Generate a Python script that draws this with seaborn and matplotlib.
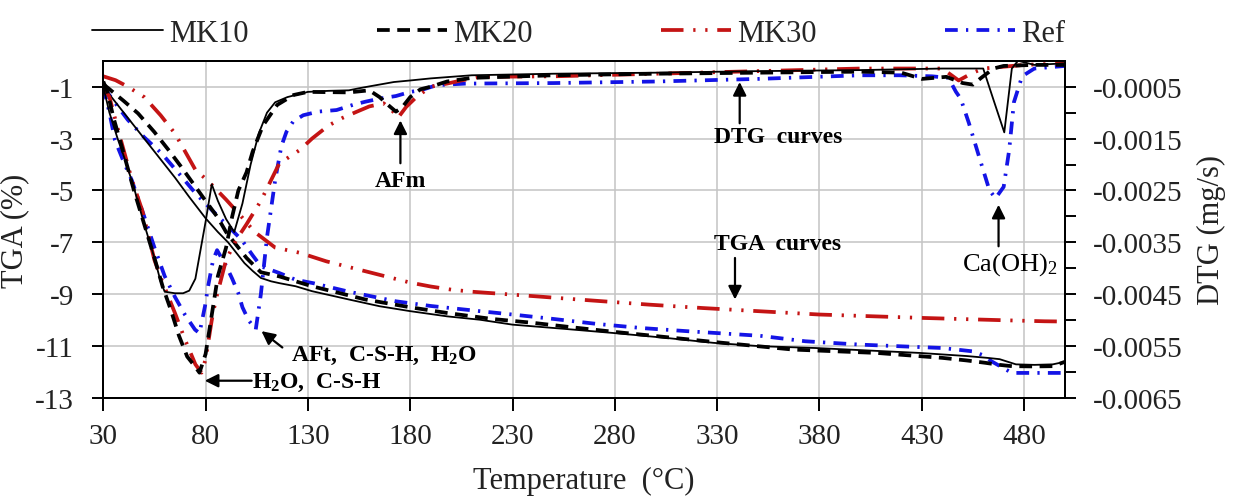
import numpy as np
import pandas as pd
import matplotlib
matplotlib.use("Agg")
import matplotlib.pyplot as plt
import seaborn as sns
from matplotlib.ticker import FixedLocator, FixedFormatter, NullFormatter

# ---------------- data ----------------
series_names = ["MK10", "MK20", "MK30", "Ref"]

# TGA (%)
mk10_tga_t = [30, 35, 42, 50, 58, 65, 72, 80, 86, 91, 95, 99, 103, 107, 112, 116, 124, 132, 150, 165, 180, 198,
              214, 230, 255, 279, 305, 328, 351, 378, 405, 429, 452, 462, 468, 476, 485, 494, 500]
mk10_tga_v = [-1.0, -1.5, -2.2, -3.0, -3.8, -4.5, -5.25, -6.07, -6.6, -7.0, -7.4, -7.8, -8.1, -8.37, -8.5, -8.57,
              -8.69, -8.88, -9.2, -9.46, -9.65, -9.85, -9.98, -10.17, -10.33, -10.49, -10.68, -10.87, -11.0, -11.07,
              -11.17, -11.26, -11.38, -11.45, -11.5, -11.7, -11.72, -11.7, -11.6]

mk20_tga_t = [30, 40, 47, 55, 62, 68, 75, 80, 86, 90, 95, 100, 107, 116, 132, 158, 180, 198, 220, 240, 260, 280,
              305, 330, 367, 408, 440, 452, 461, 468, 474, 485, 494, 500]
mk20_tga_v = [-0.9, -1.55, -2.03, -2.75, -3.45, -4.08, -4.85, -5.4, -6.05, -6.6, -7.1, -7.6, -8.15, -8.31, -8.69,
              -9.2, -9.5, -9.72, -9.95, -10.1, -10.28, -10.45, -10.65, -10.85, -11.13, -11.26, -11.45, -11.55,
              -11.64, -11.72, -11.77, -11.78, -11.77, -11.6]

mk30_tga_t = [30, 36, 42, 50, 58, 65, 70, 75, 80, 83, 90, 96, 104, 114, 120, 126, 139, 150, 160, 170, 180, 190,
              200, 210, 240, 262, 297, 323, 350, 380, 430, 470, 490, 500]
mk30_tga_v = [-0.6, -0.75, -1.0, -1.4, -2.1, -2.8, -3.5, -4.2, -4.55, -4.78, -5.35, -5.87, -6.6, -7.2, -7.3, -7.4,
              -7.73, -7.95, -8.15, -8.35, -8.55, -8.7, -8.82, -8.9, -9.07, -9.2, -9.4, -9.53, -9.65, -9.78, -9.91,
              -10.0, -10.04, -10.05]

ref_tga_t = [30, 36, 42, 50, 58.5, 67, 75, 83, 90, 97.6, 103, 107, 116, 124, 132.5, 150, 173, 190, 214, 230, 250,
             271, 293, 315, 351, 373, 400, 440, 455, 460, 464, 470, 474, 485, 500]
ref_tga_v = [-1.0, -1.65, -2.28, -2.95, -3.57, -4.35, -5.1, -5.75, -6.3, -6.9, -7.5, -7.92, -8.18, -8.44, -8.57,
             -8.9, -9.27, -9.45, -9.65, -9.78, -9.95, -10.14, -10.3, -10.42, -10.6, -10.81, -10.94, -11.07, -11.2,
             -11.35, -11.58, -11.85, -12.03, -12.03, -12.03]

# DTG (mg/s)
mk10_dtg_t = [30, 33, 37, 41, 45, 50, 55, 58, 60, 65, 69, 72, 75, 80, 83, 86, 90, 94, 98, 102, 106, 110, 114, 120,
              130, 140, 150, 155, 162, 172, 180, 190, 210, 250, 300, 350, 400, 440, 455, 460, 465, 470.3, 474, 477,
              485, 500]
mk10_dtg_v = [-0.00050, -0.00100, -0.00150, -0.00195, -0.00245, -0.00315, -0.00380, -0.00425, -0.00445, -0.00448,
              -0.00448, -0.00443, -0.00420, -0.00310, -0.00238, -0.00270, -0.00305, -0.00330, -0.00275, -0.00200,
              -0.00140, -0.00100, -0.00080, -0.00070, -0.00060, -0.00058, -0.00057, -0.00053, -0.00048, -0.00041,
              -0.00038, -0.00034, -0.00028, -0.00025, -0.00023, -0.00020, -0.00018, -0.00015, -0.00015, -0.00015,
              -0.00075, -0.00138, -0.00015, 0.00000, -0.00008, -0.00005]

mk20_dtg_t = [30, 32, 35, 39, 45, 50, 55, 59, 63, 67, 71, 75, 77, 80, 83, 86, 90, 93, 96, 100, 103, 108, 115, 123,
              130, 150, 160, 165, 170, 173, 176, 180, 185, 190, 198, 210, 250, 300, 350, 400, 420, 430, 442, 450,
              455, 459, 465, 470, 485, 500]
mk20_dtg_v = [-0.00040, -0.00060, -0.00110, -0.00165, -0.00250, -0.00315, -0.00380, -0.00435, -0.00480, -0.00530,
              -0.00570, -0.00590, -0.00601, -0.00565, -0.00490, -0.00415, -0.00360, -0.00300, -0.00250, -0.00215,
              -0.00175, -0.00125, -0.00085, -0.00066, -0.00060, -0.00061, -0.00057, -0.00070, -0.00088, -0.00098,
              -0.00090, -0.00070, -0.00055, -0.00050, -0.00040, -0.00033, -0.00028, -0.00025, -0.00023, -0.00021,
              -0.00023, -0.00035, -0.00031, -0.00043, -0.00046, -0.00033, -0.00015, -0.00010, -0.00008, -0.00008]

mk30_dtg_t = [30, 33, 37, 44, 49, 55, 58.5, 65, 70, 75, 78, 80, 83, 85, 90, 95, 100, 107, 112, 116, 126, 132, 140,
              147, 154, 160, 167, 171, 174, 178, 183, 190, 198, 205, 214, 250, 300, 350, 400, 440, 448, 455, 460,
              480, 500]
mk30_dtg_v = [-0.00050, -0.00070, -0.00130, -0.00230, -0.00288, -0.00384, -0.00422, -0.00486, -0.00538, -0.00585,
              -0.00601, -0.00575, -0.00500, -0.00460, -0.00384, -0.00345, -0.00315, -0.00270, -0.00230, -0.00198,
              -0.00172, -0.00150, -0.00125, -0.00110, -0.00098, -0.00088, -0.00082, -0.00095, -0.00110, -0.00089,
              -0.00070, -0.00050, -0.00044, -0.00038, -0.00031, -0.00030, -0.00025, -0.00020, -0.00015, -0.00015,
              -0.00038, -0.00023, -0.00015, -0.00008, -0.00005]

ref_dtg_t = [30, 33, 35.7, 40, 43.9, 50, 55, 60, 65, 70, 74.8, 77, 79.7, 81.2, 83.6, 85.6, 90, 93, 96, 98, 101,
             104.5, 107, 110, 114, 117, 119.5, 122.8, 127.7, 135, 144, 152, 158, 165, 173, 180, 185, 193, 207, 250,
             300, 350, 400, 419, 435, 443, 446.7, 449, 453, 458, 463, 466, 470, 472.7, 475, 479, 485, 500]
ref_dtg_v = [-0.00050, -0.00100, -0.00153, -0.00195, -0.00230, -0.00300, -0.00360, -0.00415, -0.00455, -0.00490,
             -0.00518, -0.00525, -0.00473, -0.00435, -0.00385, -0.00365, -0.00395, -0.00420, -0.00448, -0.00475,
             -0.00500, -0.00518, -0.00450, -0.00340, -0.00230, -0.00165, -0.00137, -0.00117, -0.00105, -0.00098,
             -0.00095, -0.00085, -0.00079, -0.00073, -0.00068, -0.00060, -0.00057, -0.00047, -0.00044, -0.00043,
             -0.00040, -0.00035, -0.00028, -0.00028, -0.00030, -0.00033, -0.00060, -0.00073, -0.00120, -0.00185,
             -0.00249, -0.00265, -0.00243, -0.00172, -0.00080, -0.00030, -0.00015, -0.00010]

x_ticks = [30, 80, 130, 180, 230, 280, 330, 380, 430, 480]
tga_ticks = [-1, -3, -5, -7, -9, -11, -13]
dtg_ticks = [-0.0005, -0.0015, -0.0025, -0.0035, -0.0045, -0.0055, -0.0065]
dtg_tick_labels = ["-0.0005", "-0.0015", "-0.0025", "-0.0035", "-0.0045", "-0.0055", "-0.0065"]
dtg_minor = [-0.001, -0.002, -0.003, -0.004, -0.005, -0.006]

# ---------------- style ----------------
sns.set_style("white")
plt.rcParams['font.family'] = ['Liberation Serif', 'DejaVu Serif']
plt.rcParams['axes.unicode_minus'] = False
plt.rcParams['mathtext.fontset'] = 'custom'
plt.rcParams['mathtext.rm'] = 'Liberation Serif'
plt.rcParams['mathtext.it'] = 'Liberation Serif:italic'
plt.rcParams['mathtext.bf'] = 'Liberation Serif:bold'

RED = "#C41414"
BLUE = "#1414E6"
styles = {
    "MK10": dict(color="black", linewidth=1.3, linestyle="-"),
    "MK20": dict(color="black", linewidth=2.7, linestyle=(0, (3.4, 2.0))),
    "MK30": dict(color=RED, linewidth=2.7, linestyle=(0, (6.0, 2.6, 0.6, 2.6, 0.6, 2.6))),
    "Ref": dict(color=BLUE, linewidth=2.7, linestyle=(0, (3.4, 2.2, 0.6, 2.2))),
}

tga = {"MK10": (mk10_tga_t, mk10_tga_v), "MK20": (mk20_tga_t, mk20_tga_v),
       "MK30": (mk30_tga_t, mk30_tga_v), "Ref": (ref_tga_t, ref_tga_v)}
dtg = {"MK10": (mk10_dtg_t, mk10_dtg_v), "MK20": (mk20_dtg_t, mk20_dtg_v),
       "MK30": (mk30_dtg_t, mk30_dtg_v), "Ref": (ref_dtg_t, ref_dtg_v)}

fig, ax = plt.subplots(figsize=(12.37, 5.02), dpi=100)
fig.subplots_adjust(left=0.0835, right=0.861, bottom=0.205, top=0.877)
ax2 = ax.twinx()

draw_order = ["Ref", "MK30", "MK20", "MK10"]
for name in draw_order:
    t, v = tga[name]
    sns.lineplot(x=t, y=v, ax=ax, estimator=None, sort=False, label=name, legend=False, **styles[name])
    t, v = dtg[name]
    sns.lineplot(x=t, y=v, ax=ax2, estimator=None, sort=False, legend=False, **styles[name])

ax.set_xlim(30, 500)
ax.set_ylim(-13, 0)
ax2.set_ylim(-0.0065, 0)

ax.xaxis.set_major_locator(FixedLocator(x_ticks))
ax.yaxis.set_major_locator(FixedLocator(tga_ticks))
ax2.yaxis.set_major_locator(FixedLocator(dtg_ticks))
ax2.yaxis.set_major_formatter(FixedFormatter(dtg_tick_labels))
ax2.yaxis.set_minor_locator(FixedLocator(dtg_minor))
ax2.yaxis.set_minor_formatter(NullFormatter())

ax.grid(True, color="#c4c4c4", linewidth=1.1)
ax2.grid(False)
ax.set_axisbelow(True)

for a in (ax, ax2):
    for s in a.spines.values():
        s.set_color("black")
        s.set_linewidth(1.4)

ax.tick_params(axis="x", direction="out", length=9, width=1.4, pad=9, labelsize=21, colors="black",
               bottom=True, top=False)
ax.tick_params(axis="y", direction="out", length=8, width=1.4, pad=13, labelsize=21, colors="black",
               left=True, right=False)
ax2.tick_params(axis="y", which="both", direction="out", length=8, width=1.4, pad=12, labelsize=21,
                colors="black", right=True, left=False)
for lab in ax.get_xticklabels() + ax.get_yticklabels() + ax2.get_yticklabels():
    lab.set_color("#222222")

ax.set_xlabel("Temperature  (°C)", fontsize=22, labelpad=12, color="#222222")
ax.set_ylabel("TGA (%)", fontsize=22, labelpad=4, color="#222222")
ax2.set_ylabel("DTG (mg/s)", fontsize=22, labelpad=10, rotation=90, color="#222222")

# ---------------- annotations ----------------
arrow_kw = dict(arrowstyle="-|>", color="black", lw=1.6, mutation_scale=20, shrinkA=0, shrinkB=0)
bold_kw = dict(fontsize=17, fontweight="bold", color="black")

def arrow(x0, y0, x1, y1):
    ax2.annotate("", xy=(x1, y1), xytext=(x0, y0), xycoords=ax.transData,
                 textcoords=ax.transData, arrowprops=arrow_kw)

def label(x, y, s, ha="left", **kw):
    ax2.text(x, y, s, transform=ax.transData, ha=ha, va="center", **kw)

arrow(175.2, -3.95, 175.2, -2.3)
label(175.2, -4.6, "AFm", ha="center", **bold_kw)

arrow(341, -2.41, 341, -0.82)
label(328.5, -2.92, "DTG  curves", **bold_kw)

arrow(338.7, -7.6, 338.7, -9.2)
label(328.5, -7.03, "TGA  curves", **bold_kw)

arrow(467.5, -7.15, 467.5, -5.55)
label(449.5, -7.8, "Ca(OH)$_2$", fontsize=19, color="black")

arrow(117.5, -11.05, 107.3, -10.42)
label(121.5, -11.33, r"AFt,  C-S-H,  H$_\mathbf{2}$O", **bold_kw)

arrow(102.5, -12.33, 79.6, -12.33)
label(102.6, -12.36, r"H$_\mathbf{2}$O,  C-S-H", **bold_kw)

# ---------------- legend ----------------
handles = {l.get_label(): l for l in ax.get_lines()}
fig.legend([handles[n] for n in series_names], series_names, loc="upper center",
           bbox_to_anchor=(0.468, 1.015), ncol=4, frameon=False, fontsize=22,
           handlelength=2.3, handletextpad=0.2, columnspacing=4.2)

fig.savefig("out.png", dpi=100)
